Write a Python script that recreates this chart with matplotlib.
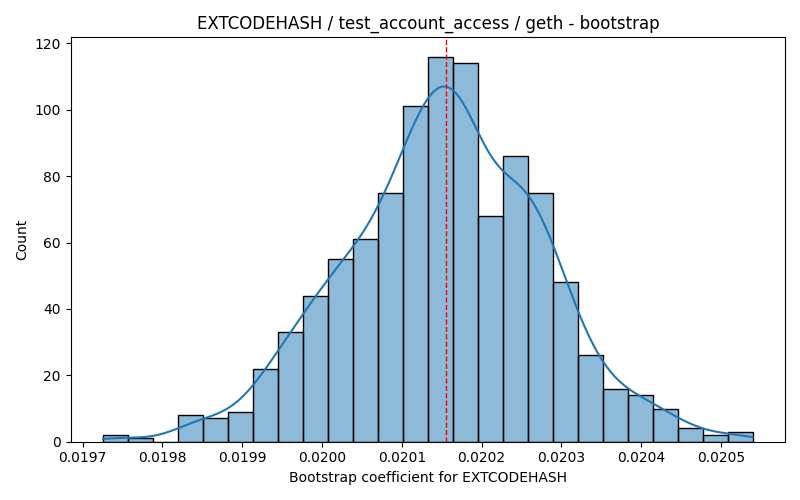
import numpy as np
import matplotlib.pyplot as plt

# histogram (26 bins, 1000 bootstrap samples)
bin_start = 0.0197257
bin_width = 0.0000313
counts = [2, 1, 0, 8, 7, 9, 22, 33, 44, 55, 61, 75, 101,
          116, 114, 68, 86, 75, 48, 26, 16, 14, 10, 4, 2, 3]
estimate = 0.020155
title = "EXTCODEHASH / test_account_access / geth - bootstrap"
xlabel = "Bootstrap coefficient for EXTCODEHASH"

counts = np.array(counts, dtype=float)
edges = bin_start + bin_width * np.arange(len(counts) + 1)
centers = (edges[:-1] + edges[1:]) / 2

# weighted gaussian kde on the bin centres, scaled to counts
n = counts.sum()
mean = np.sum(centers * counts) / n
std = np.sqrt(np.sum(counts * (centers - mean) ** 2) / n)
bw = std * n ** (-1 / 5)
grid = np.linspace(edges[0], edges[-1], 200)
dens = np.sum(counts[:, None] * np.exp(-0.5 * ((grid[None, :] - centers[:, None]) / bw) ** 2), axis=0)
dens = dens / (n * bw * np.sqrt(2 * np.pi))
kde_y = dens * n * bin_width

fig, ax = plt.subplots(figsize=(8, 5), dpi=100)
ax.bar(edges[:-1], counts, width=bin_width, align='edge',
       color=(0.122, 0.467, 0.706, 0.5), edgecolor='black', linewidth=1)
ax.plot(grid, kde_y, color='#1f77b4', linewidth=1.5)
ax.axvline(estimate, color='red', linestyle='--', linewidth=1)

ax.set_title(title)
ax.set_xlabel(xlabel)
ax.set_ylabel("Count")
plt.tight_layout()
plt.savefig("out.png", dpi=100)
